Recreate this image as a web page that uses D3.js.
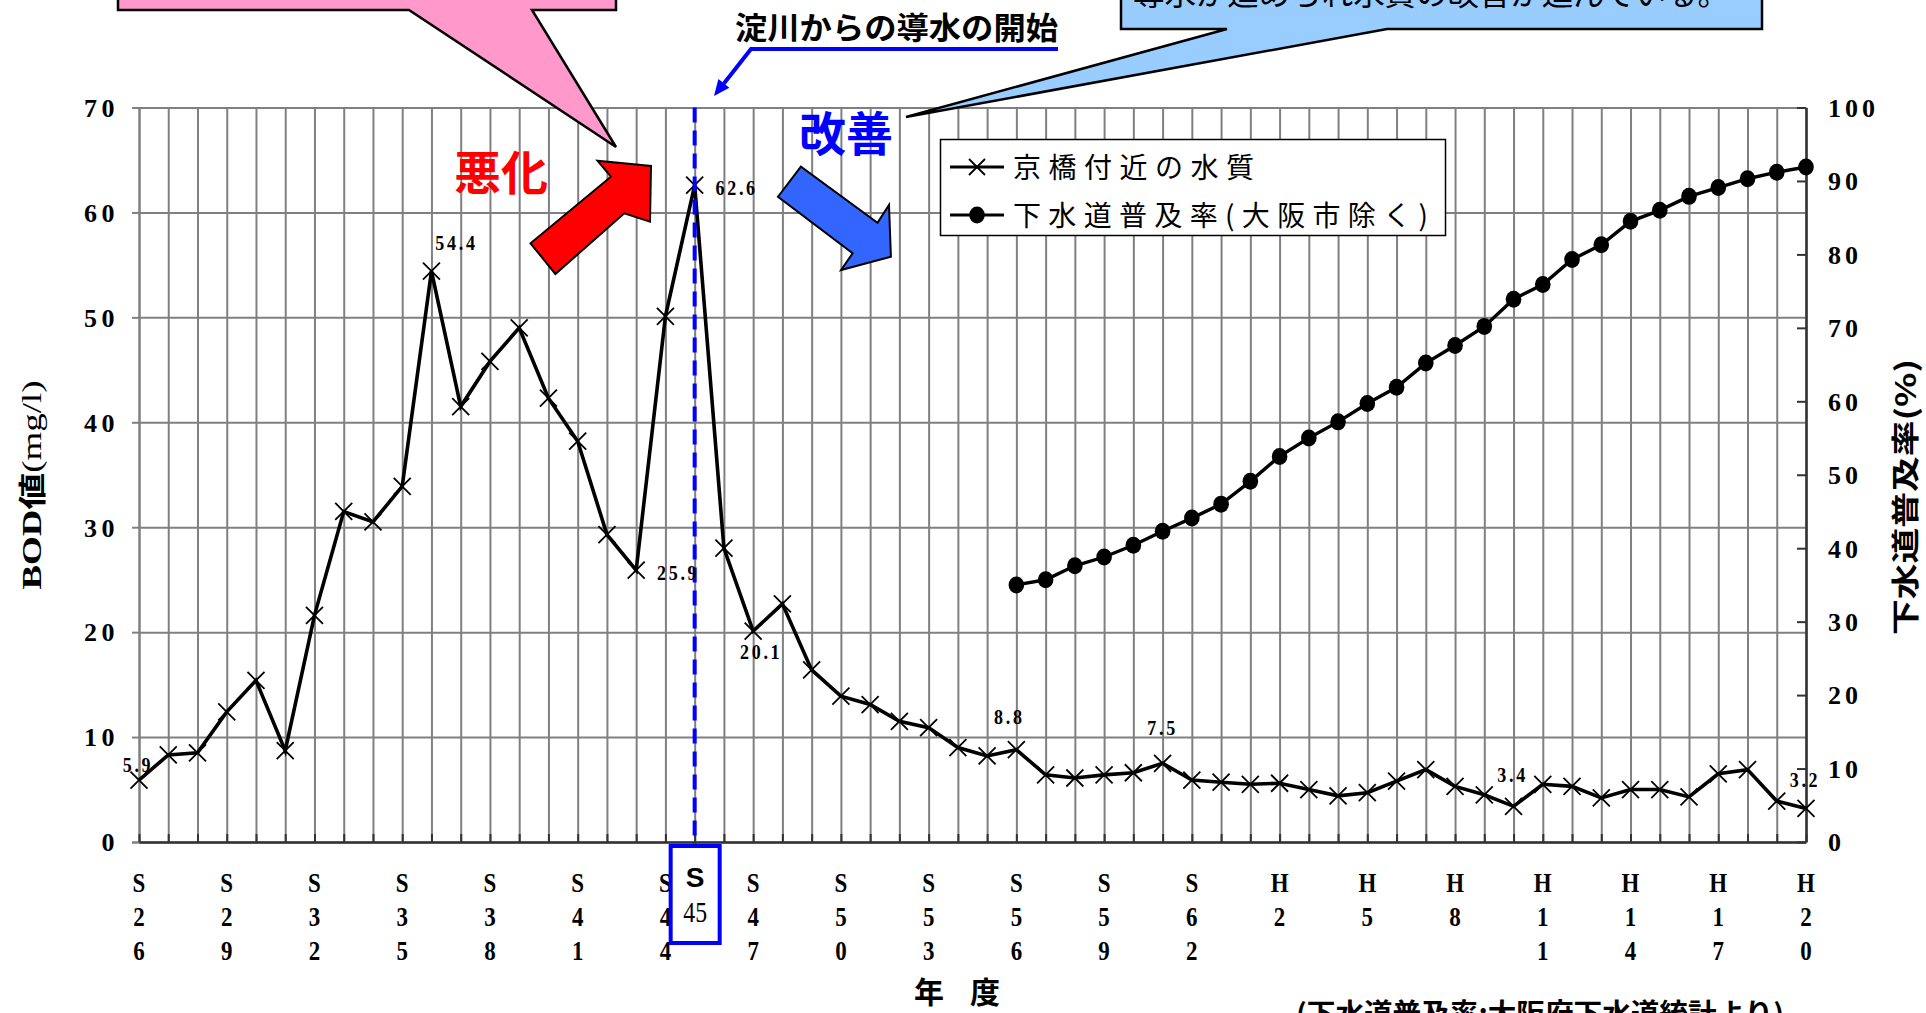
<!DOCTYPE html>
<html><head><meta charset="utf-8">
<script src="https://cdn.jsdelivr.net/npm/d3@7"></script>
<style>
html,body{margin:0;padding:0;background:#fff;overflow:hidden}
svg{display:block}
</style></head><body>
<svg id="chart" width="1926" height="1013"></svg>
<script>
// 年度（昭和・平成）
const years = ["S26","S27","S28","S29","S30","S31","S32","S33","S34","S35",
  "S36","S37","S38","S39","S40","S41","S42","S43","S44","S45",
  "S46","S47","S48","S49","S50","S51","S52","S53","S54","S55",
  "S56","S57","S58","S59","S60","S61","S62","S63",
  "H1","H2","H3","H4","H5","H6","H7","H8","H9","H10",
  "H11","H12","H13","H14","H15","H16","H17","H18","H19","H20"];

// 京橋付近の水質 BOD (mg/l)
const bod = [5.9,8.3,8.5,12.4,15.4,8.7,21.6,31.5,30.5,33.9,
  54.4,41.5,45.8,49.0,42.3,38.2,29.3,25.9,50.1,62.6,
  28.0,20.1,22.7,16.4,13.9,13.1,11.5,10.9,9.0,8.2,
  8.8,6.4,6.1,6.4,6.6,7.5,5.9,5.7,
  5.5,5.6,5.0,4.4,4.7,5.8,6.9,5.3,4.5,3.4,
  5.5,5.3,4.2,5.0,5.0,4.3,6.5,6.9,3.9,3.2];

// 下水道普及率（大阪市除く）(%)
const sewerYears = ["S56","S57","S58","S59","S60","S61","S62","S63",
  "H1","H2","H3","H4","H5","H6","H7","H8","H9","H10",
  "H11","H12","H13","H14","H15","H16","H17","H18","H19","H20"];
const sewer = [35.0,35.7,37.6,38.8,40.4,42.3,44.1,46.0,
  49.1,52.5,55.0,57.2,59.7,61.9,65.2,67.6,70.2,73.9,
  75.9,79.3,81.3,84.5,86.0,87.9,89.1,90.3,91.2,91.9];

// 目盛ラベル
const xTickYears = ["S26","S29","S32","S35","S38","S41","S44","S47","S50","S53",
  "S56","S59","S62","H2","H5","H8","H11","H14","H17","H20"];
const leftTicks = [0,10,20,30,40,50,60,70];
const rightTicks = [0,10,20,30,40,50,60,70,80,90,100];

// 値ラベルを付ける年度
const labelledYears = ["S26","S36","S43","S45","S47","S56","S61","H10","H20"];

const M = {left:139, right:1806, top:107.5, bottom:842};
const GRID = "#808080", DARK = "#333";
const SERIF = "'Liberation Serif','DejaVu Serif',serif";
const GOTHIC = "'Noto Sans CJK JP','Noto Sans',sans-serif";

const svg = d3.select("#chart");
const x = d3.scalePoint().domain(years).range([M.left, M.right]);
const yL = d3.scaleLinear().domain([0,70]).range([M.bottom, M.top]);
const yR = d3.scaleLinear().domain([0,100]).range([M.bottom, M.top]);

// 縦のグリッド（各年度）
svg.append("g").attr("transform", `translate(0,${M.bottom})`)
  .call(d3.axisBottom(x).tickSize(-(M.bottom - M.top)).tickFormat(""))
  .call(g => g.select(".domain").remove())
  .call(g => g.selectAll("line").attr("stroke", GRID).attr("stroke-width", 2));

// 横のグリッド（BOD 10 mg/l ごと）
svg.append("g").attr("transform", `translate(${M.left},0)`)
  .call(d3.axisLeft(yL).tickValues(leftTicks).tickSize(-(M.right - M.left)).tickFormat(""))
  .call(g => g.select(".domain").remove())
  .call(g => g.selectAll("line").attr("stroke", GRID).attr("stroke-width", 2));

// 左軸
const axL = svg.append("g").attr("transform", `translate(${M.left},0)`)
  .call(d3.axisLeft(yL).tickValues(leftTicks).tickSize(7).tickPadding(13));
axL.select(".domain").attr("stroke", GRID).attr("stroke-width", 2);
axL.selectAll("line").attr("stroke", GRID).attr("stroke-width", 2);
axL.selectAll("text").attr("font-family", SERIF).attr("font-weight", "bold")
  .attr("font-size", 26).attr("letter-spacing", 4.5).attr("fill", "#000")
  .attr("dy", "0.34em");

// 下軸（内向きの目盛）
const axB = svg.append("g").attr("transform", `translate(0,${M.bottom})`)
  .call(d3.axisBottom(x).tickSizeInner(-8).tickSizeOuter(0).tickFormat(""));
axB.select(".domain").attr("stroke", DARK).attr("stroke-width", 2.5);
axB.selectAll("line").attr("stroke", DARK).attr("stroke-width", 2);

// 右軸（下水道普及率）
const axR = svg.append("g").attr("transform", `translate(${M.right},0)`)
  .call(d3.axisRight(yR).tickValues(rightTicks).tickSizeInner(-9).tickSizeOuter(0).tickPadding(22));
axR.select(".domain").attr("stroke", DARK).attr("stroke-width", 2.5);
axR.selectAll("line").attr("stroke", DARK).attr("stroke-width", 2);
axR.selectAll("text").attr("font-family", SERIF).attr("font-weight", "bold")
  .attr("font-size", 26).attr("letter-spacing", 4).attr("fill", "#000")
  .attr("dy", "0.34em");

// 年度ラベル（縦書き）
const tickRows = [892, 926, 960];
const xl = svg.append("g").attr("font-family", SERIF).attr("font-weight", "bold")
  .attr("font-size", 28).attr("text-anchor", "middle");
xTickYears.forEach(yr => {
  yr.split("").forEach((ch, i) => {
    xl.append("text")
      .attr("transform", `translate(${x(yr)},${tickRows[i]}) scale(0.82,1)`)
      .text(ch);
  });
});

// 軸タイトル
svg.append("text")
  .attr("transform", "translate(31,485) rotate(-90)")
  .attr("text-anchor", "middle").attr("dominant-baseline", "central")
  .attr("font-size", 28).attr("font-weight", "bold")
  .attr("textLength", 209).attr("lengthAdjust", "spacingAndGlyphs")
  .call(t => {
    t.append("tspan").attr("font-family", SERIF).text("BOD");
    t.append("tspan").attr("font-family", GOTHIC).text("値");
    t.append("tspan").attr("font-family", SERIF).attr("font-weight", "normal").text("(mg/l)");
  });

svg.append("text")
  .attr("transform", "translate(1904,497) rotate(-90)")
  .attr("text-anchor", "middle").attr("dominant-baseline", "central")
  .attr("font-family", GOTHIC).attr("font-size", 28).attr("font-weight", "bold")
  .attr("textLength", 276).attr("lengthAdjust", "spacingAndGlyphs")
  .text("下水道普及率(%)");

svg.append("text").attr("x", 957).attr("y", 1003)
  .attr("text-anchor", "middle").attr("font-family", GOTHIC)
  .attr("font-size", 30).attr("font-weight", "bold")
  .attr("textLength", 86).attr("lengthAdjust", "spacing")
  .text("年 度");

svg.append("text").attr("x", 1296).attr("y", 1024)
  .attr("font-family", GOTHIC).attr("font-size", 28).attr("font-weight", "bold")
  .attr("textLength", 488).attr("lengthAdjust", "spacingAndGlyphs")
  .text("(下水道普及率:大阪府下水道統計より)");

// 淀川導水開始年（S45）の破線と枠
const x45 = x("S45");
svg.append("rect").attr("x", x45 - 24).attr("y", 846).attr("width", 49).attr("height", 97)
  .attr("fill", "#fff").attr("stroke", "#0000ff").attr("stroke-width", 4);
svg.append("text").attr("x", x45 + 0.5).attr("y", 887).attr("text-anchor", "middle")
  .attr("font-family", "'Liberation Sans',Arial,sans-serif").attr("font-weight", "bold")
  .attr("font-size", 28).text("S");
svg.append("text").attr("transform", `translate(${x45 + 0.5},922) scale(0.82,1)`)
  .attr("text-anchor", "middle").attr("font-family", SERIF)
  .attr("font-size", 29).text("45");

// 京橋付近の水質（BOD）折れ線
const lineB = d3.line().x((d, i) => x(years[i])).y(d => yL(d));
svg.append("path").datum(bod).attr("d", lineB)
  .attr("fill", "none").attr("stroke", "#000").attr("stroke-width", 3.6)
  .attr("stroke-linejoin", "miter");

const cross = (sel, cx, cy, r) => {
  sel.append("path")
    .attr("d", `M${cx - r},${cy - r}L${cx + r},${cy + r}M${cx - r},${cy + r}L${cx + r},${cy - r}`)
    .attr("stroke", "#000").attr("stroke-width", 1.8).attr("fill", "none");
};
const marks = svg.append("g");
bod.forEach((v, i) => cross(marks, x(years[i]), yL(v), 8.5));

// 下水道普及率 折れ線
const lineS = d3.line().x((d, i) => x(sewerYears[i])).y(d => yR(d));
svg.append("path").datum(sewer).attr("d", lineS)
  .attr("fill", "none").attr("stroke", "#000").attr("stroke-width", 3.4);
svg.append("g").selectAll("ellipse").data(sewer).join("ellipse")
  .attr("cx", (d, i) => x(sewerYears[i])).attr("cy", d => yR(d))
  .attr("rx", 7.8).attr("ry", 8.5).attr("fill", "#000");

// 破線（S45）
svg.append("line").attr("x1", x45).attr("x2", x45)
  .attr("y1", M.top).attr("y2", 846)
  .attr("stroke", "#0000ff").attr("stroke-width", 4).attr("stroke-dasharray", "15,8");

// 値ラベル
const labelOffset = {
  S26:[-1,-8], S36:[25,-21], S43:[42,10], S45:[42,10], S47:[8,28],
  S56:[-7,-26], S61:[0,-28], H10:[-1,-24], H20:[-1,-21]
};
const lab = svg.append("g").attr("font-family", SERIF).attr("font-weight", "bold")
  .attr("font-size", 20).attr("letter-spacing", 3).attr("text-anchor", "middle");
labelledYears.forEach(yr => {
  const v = bod[years.indexOf(yr)];
  const [dx, dy] = labelOffset[yr];
  lab.append("text")
    .attr("transform", `translate(${x(yr) + dx},${yL(v) + dy}) scale(0.9,1)`)
    .text(v.toFixed(1));
});

// 凡例
const lg = svg.append("g");
lg.append("rect").attr("x", 940.5).attr("y", 139.5).attr("width", 505).attr("height", 96)
  .attr("fill", "#fff").attr("stroke", "#000").attr("stroke-width", 1.5);
lg.append("line").attr("x1", 950).attr("x2", 1004).attr("y1", 167).attr("y2", 167)
  .attr("stroke", "#000").attr("stroke-width", 3);
cross(lg, 977, 167, 8);
lg.append("line").attr("x1", 950).attr("x2", 1004).attr("y1", 215).attr("y2", 215)
  .attr("stroke", "#000").attr("stroke-width", 3);
lg.append("ellipse").attr("cx", 977).attr("cy", 215).attr("rx", 7.8).attr("ry", 8.5).attr("fill", "#000");
lg.append("text").attr("x", 1013).attr("y", 178).attr("font-family", GOTHIC)
  .attr("font-size", 28).attr("textLength", 241).attr("lengthAdjust", "spacing")
  .text("京橋付近の水質");
lg.append("text").attr("x", 1013).attr("y", 226).attr("font-family", GOTHIC)
  .attr("font-size", 28).attr("textLength", 415).attr("lengthAdjust", "spacing")
  .text("下水道普及率(大阪市除く)");

// 悪化・改善の矢印
svg.append("polygon")
  .attr("points", "530.5,243.3 555.4,274 624.3,213.3 650,221.7 651,166 597.5,160.7 610.9,176.7")
  .attr("fill", "#ff0000").attr("stroke", "#000").attr("stroke-width", 2);
svg.append("polygon")
  .attr("points", "800.9,166.7 778,196.7 852.6,253.3 841.1,270 890.9,256.7 889,205 877.5,222.7")
  .attr("fill", "#3366ff").attr("stroke", "#000").attr("stroke-width", 2);
svg.append("text").attr("x", 454).attr("y", 190).attr("font-family", GOTHIC)
  .attr("font-size", 47).attr("font-weight", "bold").attr("fill", "#ff0000")
  .attr("textLength", 94).attr("lengthAdjust", "spacingAndGlyphs").text("悪化");
svg.append("text").attr("x", 799).attr("y", 151).attr("font-family", GOTHIC)
  .attr("font-size", 47).attr("font-weight", "bold").attr("fill", "#0000ff")
  .attr("textLength", 94).attr("lengthAdjust", "spacingAndGlyphs").text("改善");

// 吹き出し
svg.append("path")
  .attr("d", "M118,-60H616V10H532L616,147L409,10H118Z")
  .attr("fill", "#ff99cc").attr("stroke", "#000").attr("stroke-width", 2.5)
  .attr("stroke-linejoin", "miter");
svg.append("path")
  .attr("d", "M1121,-60H1762V29H1387L906,117L1227,29H1121Z")
  .attr("fill", "#99ccff").attr("stroke", "#000").attr("stroke-width", 2.5);
svg.append("text").attr("x", 1133).attr("y", 5).attr("font-family", GOTHIC)
  .attr("font-size", 31).attr("textLength", 596).attr("lengthAdjust", "spacingAndGlyphs")
  .text("導水が進められ水質の改善が進んでいる。");

// 淀川からの導水の開始（注記と矢印）
svg.append("text").attr("x", 735).attr("y", 39).attr("font-family", GOTHIC)
  .attr("font-size", 31).attr("font-weight", "bold")
  .attr("textLength", 323).attr("lengthAdjust", "spacingAndGlyphs")
  .text("淀川からの導水の開始");
const tip = [714, 96], bend = [751, 49];
const dv = [tip[0] - bend[0], tip[1] - bend[1]];
const dl = Math.hypot(dv[0], dv[1]);
const u = [dv[0] / dl, dv[1] / dl], p = [-u[1], u[0]];
const base = [tip[0] - 16 * u[0], tip[1] - 16 * u[1]];
svg.append("path")
  .attr("d", `M1058,49H${bend[0]}L${base[0]},${base[1]}`)
  .attr("fill", "none").attr("stroke", "#0000ff").attr("stroke-width", 4);
svg.append("polygon")
  .attr("points", [tip, [base[0] + 7 * p[0], base[1] + 7 * p[1]], [base[0] - 7 * p[0], base[1] - 7 * p[1]]].map(q => q.join(",")).join(" "))
  .attr("fill", "#0000ff");
</script>
</body></html>
